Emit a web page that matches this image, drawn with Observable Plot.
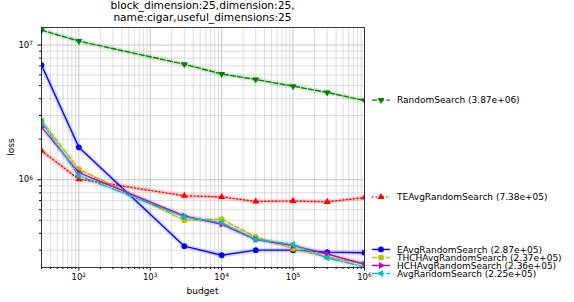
<!DOCTYPE html>
<html><head><meta charset="utf-8">
<script src="https://cdn.jsdelivr.net/npm/d3@7"></script>
<script src="https://cdn.jsdelivr.net/npm/@observablehq/plot@0.6"></script>
<style>body{margin:0;background:#fff} svg{font-family:"DejaVu Sans";}</style>
</head><body><div id="chart"></div>
<script>
const budgets = [30, 100, 3000, 10000, 30000, 100000, 300000, 1000000];
const seriesNames = ["RandomSearch","TEAvgRandomSearch","EAvgRandomSearch","THCHAvgRandomSearch","HCHAvgRandomSearch","AvgRandomSearch"];
const randomSearch = [1.29e7, 1.07e7, 7.2e6, 6.1e6, 5.55e6, 4.95e6, 4.45e6, 3.87e6];
const teAvg        = [1.64e6, 1.01e6, 7.6e5, 7.45e5, 6.9e5, 6.95e5, 6.85e5, 7.38e5];
const eAvg         = [7.1e6, 1.74e6, 3.21e5, 2.75e5, 3.0e5, 3.0e5, 2.9e5, 2.87e5];
const thchAvg      = [2.76e6, 1.2e6, 5.0e5, 5.1e5, 3.76e5, 3.07e5, 2.66e5, 2.37e5];
const hchAvg       = [2.46e6, 1.13e6, 5.38e5, 4.67e5, 3.6e5, 3.24e5, 2.81e5, 2.36e5];
const avg          = [2.68e6, 1.07e6, 5.3e5, 4.8e5, 3.6e5, 3.31e5, 2.63e5, 2.25e5];
const legendValues = ["3.87e+06","7.38e+05","2.87e+05","2.37e+05","2.36e+05","2.25e+05"];
const majorX = [1e2, 1e3, 1e4, 1e5, 1e6];
const majorY = [1e6, 1e7];
const titleLines = ["block_dimension:25,dimension:25,", "name:cigar,useful_dimensions:25"];
const xLabel = "budget", yLabel = "loss";

const valuesBy = [randomSearch, teAvg, eAvg, thchAvg, hchAvg, avg];
const styles = {
  RandomSearch:        {color:"#008000", dash:"5,2.2", symbol:"triangle", rotate:180, r:2.6},
  TEAvgRandomSearch:   {color:"#ff0000", dash:"1.35,2.2", symbol:"triangle", rotate:0, r:2.6},
  EAvgRandomSearch:    {color:"#0000ff", dash:null, symbol:"circle", rotate:0, r:2.9},
  THCHAvgRandomSearch: {color:"#bfbf00", dash:"5,2.2", symbol:"circle", rotate:0, r:2.9},
  HCHAvgRandomSearch:  {color:"#bf00bf", dash:null, symbol:"triangle", rotate:90, r:2.6},
  AvgRandomSearch:     {color:"#00bfbf", dash:"8.7,2.2,1.35,2.2", symbol:"triangle", rotate:-90, r:2.6}
};

const X0 = 30, X1 = 1e6, Y0 = 2.23e5, Y1 = 1.35e7;
const minorX = [];
for (let k = 1; k <= 5; k++) for (let m = 2; m <= 9; m++) { const v = m * 10 ** k; if (v >= X0 && v <= X1) minorX.push(v); }
const minorY = [];
for (let k = 5; k <= 7; k++) for (let m = 2; m <= 9; m++) { const v = m * 10 ** k; if (v >= Y0 && v <= Y1) minorY.push(v); }
const sup = v => "10|" + Math.round(Math.log10(v));

const seriesMarks = [];
seriesNames.forEach((name, i) => {
  const st = styles[name];
  const rows = budgets.map((b, j) => ({budget: b, loss: valuesBy[i][j]}));
  seriesMarks.push(Plot.line(rows, {x:"budget", y:"loss", stroke: st.color, strokeWidth: 5, strokeOpacity: 0.13, clip: true}));
  seriesMarks.push(Plot.line(rows, {x:"budget", y:"loss", stroke: st.color, strokeWidth: 1.4, strokeDasharray: st.dash, clip: true}));
  seriesMarks.push(Plot.dot(rows, {x:"budget", y:"loss", fill: st.color, symbol: st.symbol, rotate: st.rotate, r: st.r, clip: true}));
});

const chart = Plot.plot({
  width: 574, height: 302,
  marginLeft: 41, marginRight: 210, marginTop: 27, marginBottom: 35,
  x: {type: "log", domain: [X0, X1]},
  y: {type: "log", domain: [Y0, Y1]},
  style: {fontFamily: "DejaVu Sans", fontSize: "8.5px", color: "#000", background: "#fff"},
  marks: [
    Plot.gridX(minorX, {stroke: "#b0b0b0", strokeOpacity: 0.55, strokeWidth: 0.8}),
    Plot.gridY(minorY, {stroke: "#b0b0b0", strokeOpacity: 0.55, strokeWidth: 0.8}),
    Plot.gridX(majorX, {stroke: "#b0b0b0", strokeOpacity: 0.9, strokeWidth: 0.8}),
    Plot.gridY(majorY, {stroke: "#b0b0b0", strokeOpacity: 0.9, strokeWidth: 0.8}),
    Plot.axisX(majorX, {tickSize: 3.5, tickPadding: 3, tickFormat: sup, label: null, stroke: "#000"}),
    Plot.axisX(minorX, {tickSize: 2, tickFormat: () => "", label: null, stroke: "#000"}),
    Plot.axisY(majorY, {tickSize: 3.5, tickPadding: 5, tickFormat: sup, label: null, stroke: "#000"}),
    Plot.axisY(minorY, {tickSize: 2, tickFormat: () => "", label: null, stroke: "#000"}),
    ...seriesMarks,
    Plot.frame({stroke: "#222", strokeWidth: 0.9})
  ]
});
document.getElementById("chart").append(chart);

const svg = d3.select(chart);
// render "10|k" tick labels as 10 with a superscript exponent
svg.selectAll("text").each(function() {
  const t = this.textContent;
  if (!/^10\|\d+$/.test(t)) return;
  const exp = t.split("|")[1];
  const sel = d3.select(this);
  sel.text("10");
  sel.append("tspan").attr("dy", "-0.45em").attr("font-size", "70%").text(exp);
});

const xs = chart.scale("x"), ys = chart.scale("y");
const cx = (xs.apply(X0) + xs.apply(X1)) / 2;
const addText = (x, y, s, size, anchor = "middle") =>
  svg.append("text").attr("x", x).attr("y", y).attr("text-anchor", anchor).attr("font-size", size).attr("fill", "#000").text(s);
addText(cx, 8.6, titleLines[0], "10.6px");
addText(cx, 20.9, titleLines[1], "10.6px");
addText(cx, 294, xLabel, "9px");
svg.append("text").attr("transform", `translate(14,${(ys.apply(Y0) + ys.apply(Y1)) / 2}) rotate(-90)`)
  .attr("text-anchor", "middle").attr("font-size", "9px").attr("fill", "#000").text(yLabel);

// legend positions at line ends, spread apart when overlapping
const gap = 8;
const entries = seriesNames.map((name, i) => ({name, label: `${name} (${legendValues[i]})`, y0: ys.apply(+legendValues[i])}));
const sorted = entries.slice().sort((a, b) => a.y0 - b.y0);
let clusters = [];
for (const e of sorted) {
  clusters.push({items: [e], center: e.y0});
  while (clusters.length > 1) {
    const c = clusters[clusters.length - 1], p = clusters[clusters.length - 2];
    const pBottom = p.center + (p.items.length - 1) * gap / 2;
    const cTop = c.center - (c.items.length - 1) * gap / 2;
    if (cTop - pBottom < gap) {
      const items = p.items.concat(c.items);
      const center = d3.mean(items, d => d.y0);
      clusters.splice(clusters.length - 2, 2, {items, center});
    } else break;
  }
}
for (const c of clusters) c.items.forEach((e, k) => { e.y = c.center + (k - (c.items.length - 1) / 2) * gap; });

const lx0 = xs.apply(X1) + 8, lx1 = lx0 + 18, tx = lx1 + 7;
for (const e of entries) {
  const st = styles[e.name];
  const g = svg.append("g");
  g.append("line").attr("x1", lx0).attr("x2", lx1).attr("y1", e.y).attr("y2", e.y)
    .attr("stroke", st.color).attr("stroke-width", 1.4).attr("stroke-dasharray", st.dash);
  g.append("path").attr("d", d3.symbol(st.symbol === "circle" ? d3.symbolCircle : d3.symbolTriangle, Math.PI * st.r * st.r)())
    .attr("transform", `translate(${(lx0 + lx1) / 2},${e.y}) rotate(${st.rotate})`).attr("fill", st.color);
  g.append("text").attr("x", tx).attr("y", e.y).attr("dy", "0.35em").attr("text-anchor", "start")
    .attr("font-size", "9px").attr("fill", "#000").text(e.label);
}
</script></body></html>
